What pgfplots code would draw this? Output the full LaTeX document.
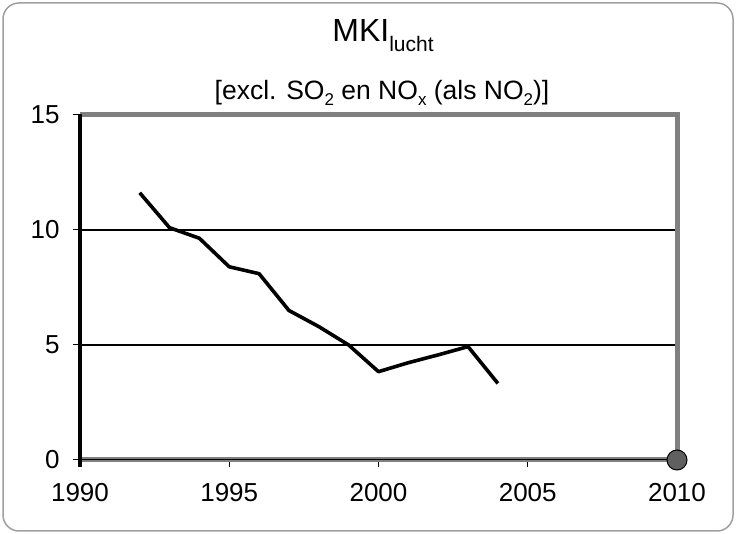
\documentclass[border=0pt]{standalone}
\usepackage{fontspec}
\setmainfont{Liberation Sans}
\usepackage{pgfplots}
\pgfplotsset{compat=1.18}
\definecolor{framegray}{HTML}{808080}
\definecolor{boxgray}{HTML}{A0A0A0}
\definecolor{dotgray}{HTML}{606060}
\newcommand{\sub}[1]{\raisebox{-6pt}{\fontsize{17}{17}\selectfont #1}}
\begin{document}
\begin{tikzpicture}[x=1pt,y=1pt]
\useasboundingbox (0,0) rectangle (736,534);
\draw[boxgray, line width=1.5pt, rounded corners=16pt] (3,3) rectangle (733,531);
\node[anchor=base] at (383,492) {\fontsize{32}{32}\selectfont MKI\raisebox{-10pt}{\fontsize{21}{21}\selectfont lucht}};
\node[anchor=base] at (382,434) {\fontsize{26.5}{26.5}\selectfont [excl. SO\sub{2} en NO\sub{x} (als NO\sub{2})]};
\begin{axis}[
  at={(80pt,74pt)}, anchor=south west,
  scale only axis, width=597pt, height=345pt,
  xmin=1990, xmax=2010, ymin=0, ymax=15,
  xtick={1990,1995,2000,2005,2010},
  ytick={0,5,10,15},
  axis line style={draw=none},
  tick align=outside,
  xtick pos=bottom, ytick pos=left,
  major tick length=7pt,
  tick style={black, line width=1pt},
  ymajorgrids, grid style={black, line width=1.2pt},
  /pgf/number format/assume math mode=true,
  /pgf/number format/1000 sep={},
  ticklabel style={font=\fontsize{26}{26}\selectfont},
  xticklabel style={yshift=-13pt},
  yticklabel style={xshift=-10pt},
  clip=false,
]
\addplot[black, line width=3.6pt, line join=round] coordinates {
(1992,11.62) (1993,10.1) (1994,9.64) (1995,8.4) (1996,8.1) (1997,6.5)
(1998,5.8) (1999,5.0) (2000,3.84) (2001,4.23) (2002,4.57) (2003,4.93) (2004,3.33)
};
\draw[framegray, line width=5pt] (axis cs:1990,15) -- (axis cs:2010,15) -- (axis cs:2010,0) -- (axis cs:1990,0);
\draw[black, line width=1pt] (axis cs:1990,0) -- (axis cs:2010,0);
\draw[black, line width=3.2pt] (axis cs:1990,15.05) -- (axis cs:1990,-0.3);
\fill[dotgray, draw=black, line width=1pt] (axis cs:2010,0) circle (10pt);
\end{axis}
\end{tikzpicture}
\end{document}
